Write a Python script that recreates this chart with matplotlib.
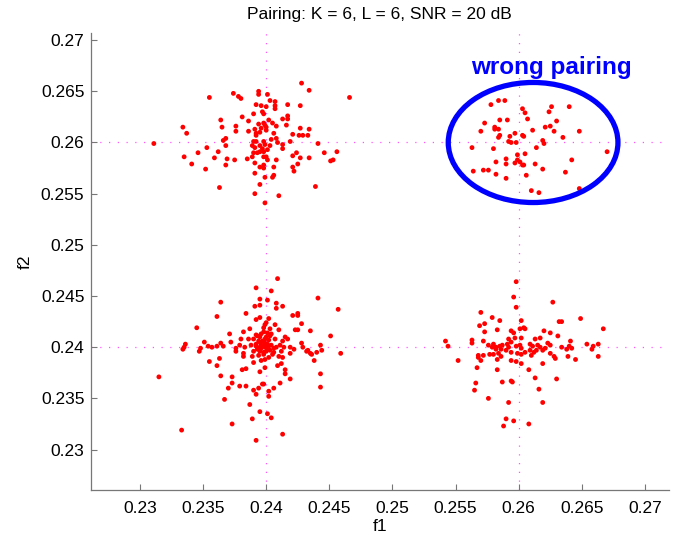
import matplotlib
matplotlib.use("Agg")
import matplotlib.pyplot as plt
from matplotlib.patches import Ellipse
import numpy as np

plt.rcParams['font.family'] = ['Liberation Sans', 'DejaVu Sans']

# estimated values, in units of 1e-4 (2400 -> 0.2400)
# cluster around (0.24, 0.26)
tl_f1 = [2428, 2434, 2466, 2355, 2374, 2378, 2380, 2394, 2394, 2401, 2403, 2407, 2392, 2396,
         2400, 2407, 2407, 2417, 2427, 2390, 2397, 2398, 2381, 2402, 2413, 2417, 2417, 2364,
         2386, 2394, 2398, 2399, 2396, 2400, 2405, 2408, 2416, 2334, 2365, 2376, 2376, 2386,
         2391, 2392, 2395, 2400, 2427, 2434, 2337, 2406, 2421, 2426, 2429, 2433, 2392, 2368,
         2366, 2404, 2408, 2390, 2392, 2398, 2409, 2419, 2441, 2311, 2368, 2389, 2395, 2399,
         2403, 2413, 2413, 2353, 2362, 2391, 2397, 2401, 2395, 2390, 2393, 2398, 2346, 2424,
         2446, 2456, 2335, 2359, 2369, 2375, 2385, 2389, 2398, 2400, 2401, 2408, 2421, 2427,
         2434, 2451, 2453, 2341, 2368, 2391, 2398, 2395, 2398, 2406, 2421, 2425, 2422, 2352,
         2391, 2399, 2406, 2405, 2395, 2363, 2439, 2391, 2410, 2399]
tl_f2 = [2658, 2651, 2644, 2644, 2648, 2645, 2643, 2650, 2647, 2647, 2641, 2640, 2637, 2636,
         2635, 2636, 2633, 2637, 2636, 2628, 2630, 2628, 2625, 2622, 2623, 2626, 2623, 2622,
         2621, 2618, 2619, 2617, 2614, 2615, 2619, 2616, 2617, 2615, 2615, 2616, 2611, 2611,
         2613, 2609, 2610, 2612, 2614, 2613, 2609, 2609, 2608, 2607, 2607, 2607, 2607, 2604,
         2602, 2603, 2604, 2601, 2601, 2601, 2600, 2601, 2599, 2599, 2597, 2597, 2597, 2598,
         2597, 2598, 2594, 2595, 2591, 2595, 2594, 2593, 2591, 2590, 2590, 2591, 2590, 2590,
         2590, 2591, 2586, 2585, 2584, 2583, 2584, 2586, 2586, 2586, 2583, 2583, 2587, 2585,
         2585, 2582, 2583, 2579, 2578, 2580, 2578, 2576, 2575, 2576, 2576, 2579, 2572, 2574,
         2570, 2566, 2568, 2566, 2559, 2556, 2557, 2550, 2548, 2541]

# cluster around (0.26, 0.26), the wrong pairing
tr_f1 = [2578, 2584, 2589, 2640, 2626, 2624, 2603, 2605, 2607, 2585, 2591, 2573, 2630, 2570,
         2581, 2581, 2584, 2621, 2625, 2628, 2611, 2648, 2585, 2584, 2593, 2597, 2603, 2604,
         2635, 2592, 2594, 2598, 2619, 2620, 2563, 2580, 2614, 2670, 2605, 2599, 2590, 2599,
         2582, 2590, 2597, 2601, 2603, 2604, 2613, 2642, 2564, 2572, 2576, 2619, 2582, 2606,
         2637, 2590, 2648, 2610, 2616]
tr_f2 = [2637, 2641, 2641, 2635, 2635, 2630, 2633, 2629, 2623, 2622, 2622, 2619, 2621, 2611,
         2615, 2613, 2613, 2615, 2616, 2611, 2612, 2611, 2607, 2605, 2606, 2609, 2607, 2606,
         2605, 2601, 2600, 2600, 2602, 2599, 2595, 2594, 2595, 2591, 2589, 2588, 2584, 2583,
         2581, 2579, 2580, 2581, 2578, 2578, 2579, 2583, 2572, 2573, 2573, 2574, 2569, 2568,
         2571, 2565, 2555, 2553, 2551]

# cluster around (0.24, 0.24)
bl_f1 = [2409, 2392, 2404, 2364, 2395, 2401, 2408, 2441, 2457, 2391, 2395, 2408, 2413, 2361,
         2384, 2392, 2395, 2402, 2421, 2425, 2425, 2399, 2400, 2407, 2428, 2345, 2382, 2387,
         2398, 2403, 2410, 2423, 2425, 2435, 2451, 2371, 2392, 2396, 2401, 2404, 2415, 2351,
         2364, 2372, 2380, 2386, 2390, 2395, 2399, 2402, 2407, 2413, 2417, 2428, 2443, 2336,
         2335, 2334, 2348, 2347, 2354, 2357, 2361, 2366, 2376, 2379, 2383, 2388, 2392, 2395,
         2398, 2401, 2404, 2408, 2411, 2414, 2419, 2422, 2429, 2433, 2444, 2432, 2376, 2382,
         2390, 2393, 2396, 2400, 2403, 2406, 2412, 2419, 2435, 2440, 2459, 2363, 2382, 2389,
         2394, 2398, 2402, 2405, 2410, 2413, 2436, 2438, 2355, 2390, 2396, 2399, 2409, 2412,
         2361, 2381, 2384, 2395, 2399, 2415, 2415, 2443, 2364, 2373, 2419, 2397, 2398, 2411,
         2373, 2370, 2379, 2384, 2390, 2394, 2392, 2402, 2406, 2402, 2443, 2315, 2367, 2387,
         2395, 2401, 2404, 2389, 2373, 2333, 2413, 2392, 2397, 2399, 2401, 2395, 2398, 2396,
         2394, 2400, 2403, 2392, 2406, 2399, 2395, 2402, 2398, 2393]
bl_f2 = [2467, 2458, 2455, 2444, 2447, 2446, 2443, 2448, 2437, 2440, 2441, 2438, 2440, 2430,
         2433, 2427, 2429, 2428, 2431, 2433, 2431, 2422, 2424, 2422, 2423, 2419, 2415, 2418,
         2419, 2418, 2417, 2417, 2417, 2416, 2411, 2413, 2412, 2413, 2414, 2413, 2410, 2405,
         2404, 2405, 2408, 2408, 2408, 2410, 2408, 2407, 2408, 2406, 2408, 2404, 2402, 2403,
         2400, 2398, 2399, 2396, 2401, 2400, 2401, 2401, 2399, 2402, 2400, 2402, 2403, 2405,
         2402, 2403, 2402, 2400, 2402, 2400, 2400, 2398, 2400, 2397, 2397, 2396, 2396, 2394,
         2396, 2398, 2399, 2396, 2397, 2395, 2396, 2394, 2394, 2395, 2394, 2389, 2391, 2391,
         2392, 2393, 2390, 2393, 2391, 2390, 2393, 2387, 2386, 2385, 2387, 2388, 2382, 2384,
         2382, 2378, 2379, 2376, 2380, 2378, 2374, 2374, 2372, 2371, 2369, 2364, 2364, 2365,
         2365, 2360, 2362, 2362, 2358, 2360, 2354, 2357, 2360, 2352, 2361, 2371, 2349, 2344,
         2337, 2335, 2331, 2330, 2325, 2319, 2315, 2309, 2406, 2400, 2399, 2400, 2395, 2402,
         2406, 2410, 2411, 2401, 2399, 2404, 2396, 2401, 2415, 2411]

# cluster around (0.26, 0.24)
br_f1 = [2598, 2596, 2598, 2627, 2570, 2579, 2585, 2569, 2573, 2602, 2649, 2632, 2634, 2667,
         2583, 2594, 2596, 2601, 2604, 2605, 2620, 2625, 2631, 2573, 2542, 2544, 2563, 2563,
         2572, 2592, 2594, 2597, 2602, 2613, 2617, 2623, 2641, 2654, 2659, 2663, 2658, 2576,
         2580, 2579, 2582, 2585, 2587, 2591, 2592, 2598, 2601, 2602, 2609, 2611, 2615, 2617,
         2625, 2634, 2638, 2640, 2642, 2582, 2586, 2590, 2594, 2599, 2605, 2609, 2612, 2614,
         2619, 2621, 2625, 2628, 2629, 2639, 2663, 2568, 2568, 2572, 2577, 2580, 2584, 2586,
         2602, 2610, 2570, 2552, 2583, 2594, 2598, 2602, 2619, 2645, 2567, 2583, 2608, 2613,
         2630, 2566, 2587, 2594, 2595, 2565, 2616, 2576, 2592, 2619, 2590, 2596, 2588, 2608]
br_f2 = [2464, 2449, 2439, 2444, 2434, 2429, 2426, 2421, 2423, 2426, 2428, 2425, 2425, 2418,
         2417, 2416, 2414, 2418, 2419, 2418, 2416, 2414, 2411, 2415, 2406, 2401, 2407, 2404,
         2406, 2408, 2405, 2409, 2409, 2408, 2409, 2404, 2406, 2403, 2401, 2403, 2398, 2402,
         2403, 2400, 2400, 2401, 2402, 2403, 2400, 2401, 2402, 2399, 2403, 2401, 2402, 2400,
         2402, 2400, 2398, 2401, 2399, 2398, 2398, 2397, 2395, 2394, 2395, 2397, 2395, 2397,
         2397, 2399, 2394, 2391, 2389, 2391, 2391, 2392, 2390, 2392, 2393, 2393, 2394, 2391,
         2393, 2392, 2387, 2387, 2388, 2387, 2386, 2384, 2384, 2388, 2380, 2378, 2378, 2370,
         2369, 2365, 2366, 2367, 2366, 2358, 2359, 2350, 2346, 2346, 2330, 2328, 2323, 2325]

f1 = np.array(tl_f1 + tr_f1 + bl_f1 + br_f1) / 1e4
f2 = np.array(tl_f2 + tr_f2 + bl_f2 + br_f2) / 1e4

true_f1 = [0.24, 0.26]
true_f2 = [0.24, 0.26]
xticks = np.arange(0.23, 0.2701, 0.005)
yticks = np.arange(0.23, 0.2701, 0.005)

fig = plt.figure(figsize=(6.84, 5.38), dpi=100)
ax = fig.add_axes([0.1326, 0.0883, 0.8454, 0.8504])

for v in true_f1:
    ax.axvline(v, color='#ff55ff', lw=0.9, ls=(0, (1, 6)), zorder=1)
for v in true_f2:
    ax.axhline(v, color='#ff55ff', lw=0.9, ls=(0, (1, 6)), zorder=1)

ax.scatter(f1, f2, s=12, color='red', edgecolors='none', zorder=3)

# mark the wrongly paired cluster
ax.add_patch(Ellipse((0.26114, 0.2600), 0.01344, 0.01173, fill=False,
                     edgecolor='blue', lw=3.8, zorder=4))
ax.text(0.2626, 0.26674, 'wrong pairing', color='blue', fontsize=17.5,
        fontweight='bold', ha='center', va='baseline')

ax.set_xlim(0.2261, 0.2719)
ax.set_ylim(0.2260, 0.2707)
ax.set_xticks(xticks)
ax.set_yticks(yticks)
ax.set_xticklabels(['%g' % round(t, 3) for t in xticks])
ax.set_yticklabels(['%g' % round(t, 3) for t in yticks])

for s in ['top', 'right']:
    ax.spines[s].set_visible(False)
for s in ['left', 'bottom']:
    ax.spines[s].set_color('#777777')
    ax.spines[s].set_linewidth(0.9)

ax.tick_params(direction='in', length=4.3, width=0.8, color='#777777',
               labelsize=12.5, labelcolor='black')
ax.tick_params(axis='x', pad=7.5)
ax.tick_params(axis='y', pad=4.5)

ax.set_xlabel('f1', fontsize=12.5, labelpad=2)
ax.set_ylabel('f2', fontsize=12.5, labelpad=6)
ax.set_title('Pairing: K = 6, L = 6, SNR = 20 dB', fontsize=12.5, pad=10)

fig.savefig('out.png', dpi=100)
